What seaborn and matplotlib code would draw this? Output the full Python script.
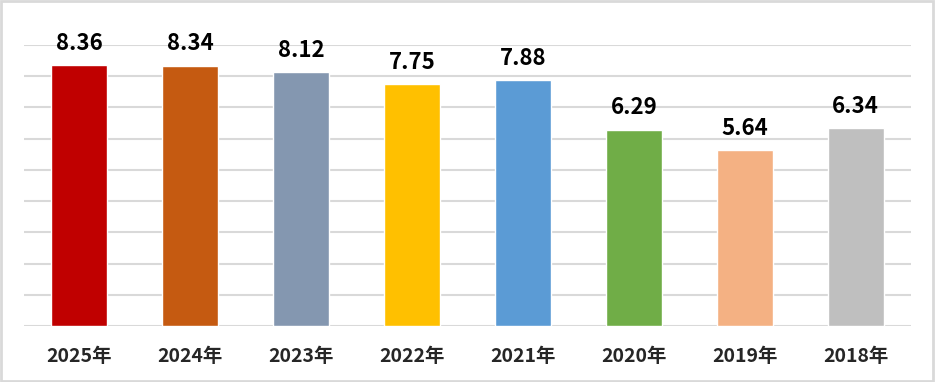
import matplotlib
matplotlib.use("Agg")
import matplotlib.pyplot as plt
import seaborn as sns
import pandas as pd

years = ["2025年", "2024年", "2023年", "2022年", "2021年", "2020年", "2019年", "2018年"]
values = [8.36, 8.34, 8.12, 7.75, 7.88, 6.29, 5.64, 6.34]
colors = ["#C00000", "#C55A11", "#8497B0", "#FFC000", "#5B9BD5", "#70AD47", "#F4B183", "#BFBFBF"]

sns.set_theme(style="white")
plt.rcParams['font.family'] = ['Noto Sans CJK SC', 'DejaVu Sans']

df = pd.DataFrame({"year": years, "value": values})

fig = plt.figure(figsize=(9.35, 3.82), dpi=100)
ax = fig.add_axes([24/935, 1-326/382, (911-24)/935, (326-45)/382])
sns.barplot(data=df, x="year", y="value", hue="year", palette=colors, width=0.505,
            legend=False, ax=ax, saturation=1)
ax.set_ylim(0, 9)
ax.set_xlim(-0.5, len(years)-0.5)
ax.set_yticks(range(0, 10))
ax.yaxis.grid(True, color="#D9D9D9", linewidth=1.5)
ax.set_axisbelow(True)
ax.tick_params(axis='y', left=False, labelleft=False)
ax.tick_params(axis='x', bottom=False, labelsize=14, pad=9)
for lbl in ax.get_xticklabels():
    lbl.set_fontweight('bold')
for s in ax.spines.values():
    s.set_visible(False)
ax.set_xlabel("")
ax.set_ylabel("")
for i, v in enumerate(values):
    ax.annotate(f"{v:.2f}", (i, v), xytext=(0, 11), textcoords="offset points",
                ha="center", va="baseline", fontsize=16, fontweight="bold",
                color="black", annotation_clip=False)

border = plt.Rectangle((0.001, 0.002), 0.997, 0.995, transform=fig.transFigure,
                       fill=False, edgecolor="#D9D9D9", linewidth=2)
fig.patches.append(border)
fig.savefig("out.png", dpi=100)
